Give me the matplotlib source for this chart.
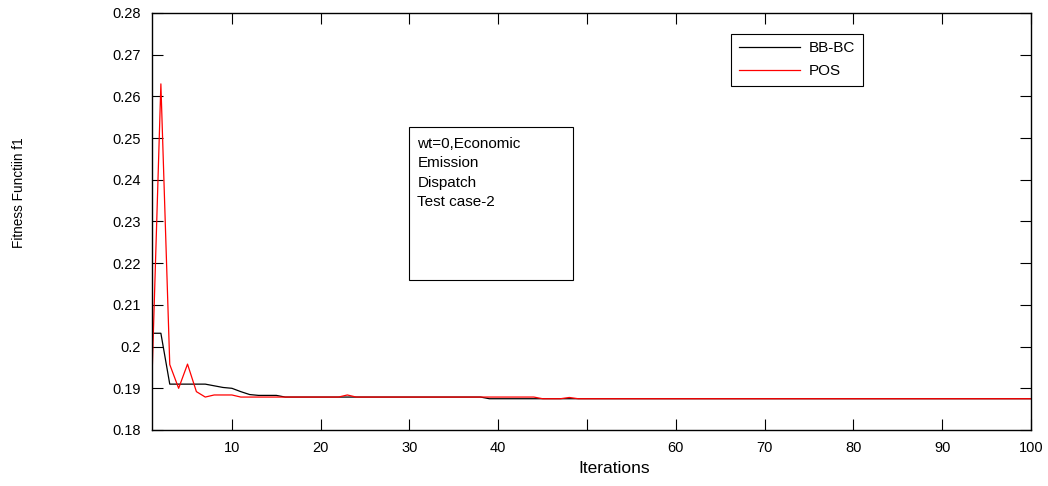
import matplotlib
matplotlib.use("Agg")
import matplotlib.pyplot as plt

plt.rcParams["font.family"] = ["Liberation Sans", "DejaVu Sans"]

# iterations 1..100
iterations = list(range(1, 101))

# BB-BC fitness
bbbc = ([0.2032, 0.2032, 0.1910, 0.1910, 0.1910, 0.1910, 0.1910, 0.1906, 0.1902, 0.1900,
         0.1892, 0.1885, 0.1883, 0.1883, 0.1883]
        + [0.1879] * 23
        + [0.1875] * 62)

# POS fitness
pos = ([0.1925, 0.2630, 0.1957, 0.1900, 0.1958, 0.1892, 0.1879, 0.1884, 0.1884, 0.1884]
       + [0.1879] * 12
       + [0.1884]
       + [0.1879] * 21
       + [0.1875] * 3
       + [0.1878]
       + [0.1875] * 52)

yticks = [0.18, 0.19, 0.20, 0.21, 0.22, 0.23, 0.24, 0.25, 0.26, 0.27, 0.28]
xticks = [10, 20, 30, 40, 50, 60, 70, 80, 90, 100]
xtick_labels = ["10", "20", "30", "40", "", "60", "70", "80", "90", "100"]

fig = plt.figure(figsize=(10.48, 4.86), dpi=100)
ax = fig.add_axes([152 / 1048, 1 - 430 / 486, (1031 - 152) / 1048, (430 - 13) / 486])

ax.plot(iterations, bbbc, color="black", lw=0.9, label="BB-BC")
ax.plot(iterations, pos, color="#ff0000", lw=0.9, label="POS")

ax.set_xlim(1, 100)
ax.set_ylim(0.18, 0.28)
ax.set_xticks(xticks)
ax.set_xticklabels(xtick_labels)
ax.set_yticks(yticks)
ax.set_yticklabels([f"{v:g}" for v in yticks])
ax.tick_params(direction="in", length=8, width=0.8, top=True, right=True,
               labelsize=10.5, pad=8)
for s in ax.spines.values():
    s.set_linewidth(1.0)

ax.set_xlabel("Iterations", fontsize=12.5)
ax.xaxis.set_label_coords(0.526, -0.075)
ax.set_ylabel("Fitness Functiin f1", fontsize=9.8)
ax.yaxis.set_label_coords(-0.143, 0.57)

leg = ax.legend(loc="upper left", bbox_to_anchor=(0.659, 0.95), fontsize=11,
                frameon=True, fancybox=False, edgecolor="black", framealpha=1,
                handlelength=4.0, borderpad=0.5, labelspacing=0.55,
                handletextpad=0.6, borderaxespad=0)
leg.get_frame().set_linewidth(0.8)
leg.get_frame().set_width(140)

# text box
ax.add_patch(plt.Rectangle((0.292, 0.36), 0.187, 0.367, transform=ax.transAxes,
                           fill=False, edgecolor="black", lw=0.8))
ax.text(0.302, 0.703, "wt=0,Economic\nEmission\nDispatch\nTest case-2",
        transform=ax.transAxes, ha="left", va="top", fontsize=11, linespacing=1.5)

fig.savefig("out.png", dpi=100)
